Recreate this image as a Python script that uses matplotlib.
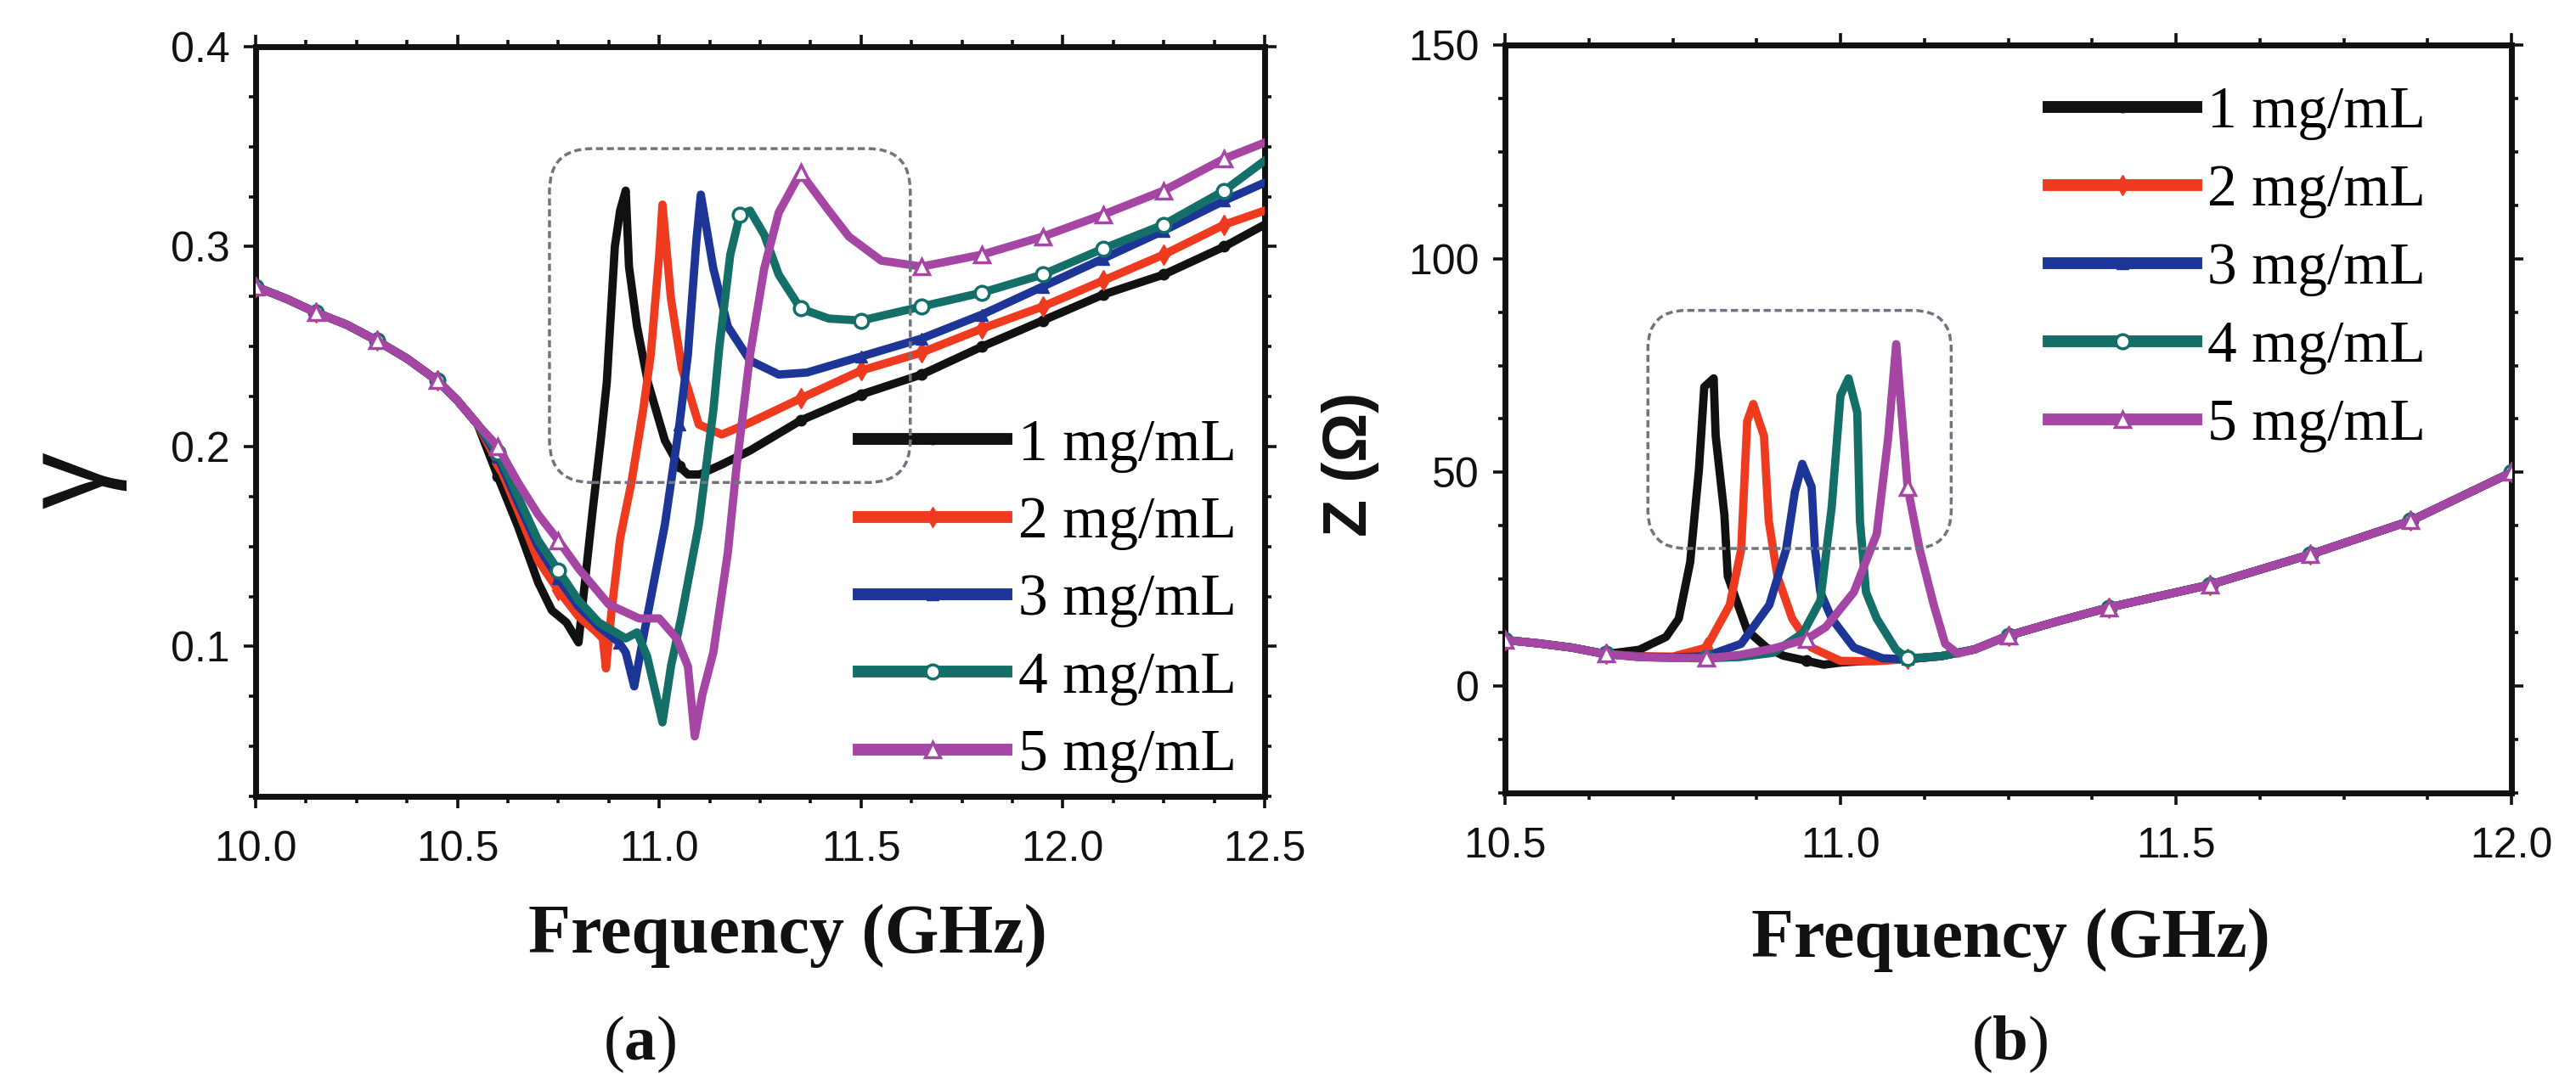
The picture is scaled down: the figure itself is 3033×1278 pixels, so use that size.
import numpy as np
import matplotlib
matplotlib.use("Agg")
import matplotlib.pyplot as plt
from matplotlib.ticker import AutoMinorLocator, FixedLocator, FormatStrFormatter
from matplotlib.patches import FancyBboxPatch
from matplotlib.transforms import IdentityTransform

plt.rcParams['mathtext.fontset'] = 'custom'
plt.rcParams['mathtext.rm'] = 'Liberation Serif'
plt.rcParams['mathtext.bf'] = 'Liberation Serif:bold'

# ---------------- data: panel (a) gamma vs frequency ----------------
labels = ["1 mg/mL", "2 mg/mL", "3 mg/mL", "4 mg/mL", "5 mg/mL"]

common_f_a = [10.00, 10.075, 10.15, 10.225, 10.30, 10.375, 10.45, 10.50, 10.55]
common_g_a = [0.280, 0.274, 0.267, 0.261, 0.253, 0.244, 0.233, 0.223, 0.211]

f_a1 = [10.60, 10.65, 10.70, 10.734, 10.77, 10.80, 10.82, 10.835, 10.855, 10.87, 10.89, 10.903,
        10.917, 10.925, 10.945, 10.972, 11.014, 11.05, 11.071, 11.10, 11.155, 11.225, 11.35,
        11.50, 11.65, 11.80, 11.95, 12.10, 12.25, 12.40, 12.50]
g_a1 = [0.185, 0.160, 0.132, 0.118, 0.112, 0.102, 0.140, 0.168, 0.203, 0.232, 0.300, 0.318,
        0.328, 0.290, 0.260, 0.232, 0.203, 0.190, 0.186, 0.186, 0.191, 0.198, 0.213,
        0.226, 0.236, 0.250, 0.263, 0.276, 0.286, 0.300, 0.311]

f_a2 = [10.60, 10.65, 10.70, 10.75, 10.80, 10.84, 10.86, 10.868, 10.882, 10.903, 10.931, 10.96,
        10.979, 11.00, 11.008, 11.029, 11.056, 11.098, 11.155, 11.225, 11.35, 11.50, 11.65,
        11.80, 11.95, 12.10, 12.25, 12.40, 12.50]
g_a2 = [0.192, 0.168, 0.143, 0.128, 0.115, 0.108, 0.104, 0.089, 0.118, 0.154, 0.182, 0.218,
        0.246, 0.296, 0.321, 0.274, 0.239, 0.211, 0.206, 0.212, 0.224, 0.238, 0.247,
        0.259, 0.270, 0.283, 0.296, 0.311, 0.318]

f_a3 = [10.60, 10.65, 10.70, 10.75, 10.80, 10.85, 10.90, 10.917, 10.938, 10.96, 10.98, 11.014,
        11.05, 11.071, 11.092, 11.103, 11.134, 11.17, 11.225, 11.296, 11.366, 11.50, 11.65,
        11.80, 11.95, 12.10, 12.25, 12.40, 12.50]
g_a3 = [0.195, 0.172, 0.150, 0.134, 0.120, 0.110, 0.102, 0.097, 0.080, 0.104, 0.125, 0.161,
        0.211, 0.246, 0.303, 0.326, 0.289, 0.260, 0.243, 0.236, 0.237, 0.245, 0.254,
        0.266, 0.280, 0.294, 0.308, 0.323, 0.332]

f_a4 = [10.60, 10.65, 10.70, 10.75, 10.80, 10.85, 10.917, 10.945, 10.97, 11.008, 11.029, 11.056,
        11.098, 11.134, 11.149, 11.176, 11.20, 11.225, 11.26, 11.296, 11.35, 11.42, 11.50,
        11.65, 11.80, 11.95, 12.10, 12.25, 12.40, 12.50]
g_a4 = [0.197, 0.175, 0.153, 0.138, 0.123, 0.112, 0.104, 0.107, 0.095, 0.062, 0.090, 0.116,
        0.161, 0.218, 0.250, 0.296, 0.316, 0.318, 0.306, 0.286, 0.269, 0.264, 0.263,
        0.270, 0.277, 0.286, 0.299, 0.311, 0.328, 0.343]

f_a5 = [10.60, 10.65, 10.70, 10.75, 10.80, 10.875, 10.95, 11.00, 11.043, 11.071, 11.088, 11.107,
        11.134, 11.17, 11.191, 11.225, 11.26, 11.296, 11.35, 11.42, 11.47, 11.55, 11.65,
        11.80, 11.95, 12.10, 12.25, 12.40, 12.50]
g_a5 = [0.200, 0.182, 0.166, 0.153, 0.139, 0.121, 0.114, 0.114, 0.104, 0.090, 0.055, 0.076,
        0.097, 0.147, 0.189, 0.246, 0.289, 0.317, 0.337, 0.318, 0.305, 0.293, 0.290,
        0.296, 0.305, 0.316, 0.328, 0.344, 0.352]

marker_f_a = [10.00, 10.15, 10.30, 10.45, 10.60, 10.75, 10.90, 11.05, 11.20, 11.35,
              11.50, 11.65, 11.80, 11.95, 12.10, 12.25, 12.40]

# ---------------- data: panel (b) Z vs frequency ----------------
common_f_b = [10.50, 10.55, 10.60, 10.65]
common_z_b = [10.8, 10.0, 9.0, 7.5]
tail_f_b = [11.20, 11.25, 11.32, 11.40, 11.55, 11.70, 11.85, 12.00]
tail_z_b = [8.6, 11.8, 15.0, 18.4, 23.7, 30.8, 38.7, 50.0]

f_b1 = [10.70, 10.74, 10.759, 10.776, 10.789, 10.797, 10.811, 10.814, 10.827, 10.832, 10.845,
        10.861, 10.89, 10.915, 10.95, 10.975, 11.00, 11.05, 11.10, 11.15]
z_b1 = [8.5, 11.5, 15.8, 29.0, 50.6, 70.0, 72.0, 58.5, 40.0, 25.7, 20.0,
        13.0, 9.0, 7.1, 5.9, 5.0, 5.5, 6.0, 6.3, 7.0]

f_b2 = [10.70, 10.75, 10.80, 10.835, 10.852, 10.861, 10.87, 10.886, 10.893, 10.906, 10.928,
        10.957, 11.00, 11.05, 11.10, 11.15]
z_b2 = [7.0, 6.9, 9.0, 19.0, 32.0, 62.0, 66.0, 58.5, 38.7, 25.7, 15.8,
        9.0, 5.9, 5.8, 6.3, 7.0]

f_b3 = [10.70, 10.75, 10.80, 10.852, 10.894, 10.919, 10.932, 10.943, 10.957, 10.962, 10.97,
        10.987, 11.02, 11.063, 11.10, 11.15]
z_b3 = [6.9, 6.7, 7.0, 9.9, 19.0, 32.0, 45.4, 52.0, 46.6, 32.0, 22.0,
        15.8, 9.0, 6.5, 6.3, 7.0]

f_b4 = [10.70, 10.75, 10.80, 10.85, 10.90, 10.944, 10.97, 10.987, 11.00, 11.012, 11.025,
        11.029, 11.038, 11.054, 11.083, 11.10, 11.15]
z_b4 = [6.8, 6.6, 6.5, 6.8, 7.8, 12.4, 20.0, 42.0, 68.0, 72.0, 64.0,
        38.7, 22.0, 15.8, 8.5, 6.5, 7.0]

f_b5 = [10.70, 10.75, 10.80, 10.85, 10.90, 10.95, 10.978, 11.02, 11.054, 11.071, 11.083,
        11.10, 11.118, 11.139, 11.156, 11.175]
z_b5 = [6.8, 6.6, 6.5, 7.3, 8.8, 11.0, 13.8, 22.0, 35.6, 58.0, 80.0,
        46.6, 32.0, 19.0, 9.9, 7.6]

marker_f_b = [10.50, 10.65, 10.80, 10.95, 11.10, 11.25, 11.40, 11.55, 11.70, 11.85, 12.00]

xticks_a = [10.0, 10.5, 11.0, 11.5, 12.0, 12.5]
yticks_a = [0.1, 0.2, 0.3, 0.4]
xticks_b = [10.5, 11.0, 11.5, 12.0]
yticks_b = [0, 50, 100, 150]

# ---------------- styles ----------------
colors = ['#111111', '#EE3B1F', '#1C3596', '#136F68', '#A545A4']
mstyles = [dict(marker='o', markersize=9, markerfacecolor='#111111', markeredgecolor='#111111'),
           dict(marker='d', markersize=12, markerfacecolor='#EE3B1F', markeredgecolor='#EE3B1F'),
           dict(marker='^', markersize=10, markerfacecolor='#1C3596', markeredgecolor='#1C3596'),
           dict(marker='o', markersize=12, markerfacecolor='white', markeredgecolor='#136F68',
                markeredgewidth=2.5),
           dict(marker='^', markersize=13, markerfacecolor='white', markeredgecolor='#A545A4',
                markeredgewidth=2.5)]

W, H = 3033, 1278
fig = plt.figure(figsize=(W / 100, H / 100), dpi=100)
fig.patch.set_facecolor('white')

ax_a = fig.add_axes([301 / W, 1 - 938 / H, 1188 / W, 883 / H])
ax_b = fig.add_axes([1772 / W, 1 - 934 / H, 1185 / W, 881 / H])


def mark_idx(f, grid):
    return [i for i, v in enumerate(f) if any(abs(v - g) < 1e-6 for g in grid)]


series_a = [(f_a1, g_a1), (f_a2, g_a2), (f_a3, g_a3), (f_a4, g_a4), (f_a5, g_a5)]
series_b = [(f_b1, z_b1), (f_b2, z_b2), (f_b3, z_b3), (f_b4, z_b4), (f_b5, z_b5)]

for k, (fs, gs) in enumerate(series_a):
    f = common_f_a + fs
    g = common_g_a + gs
    ax_a.plot(f, g, color=colors[k], lw=7, solid_joinstyle='round',
              markevery=mark_idx(f, marker_f_a), label=labels[k], zorder=2 + k, **mstyles[k])

for k, (fs, zs) in enumerate(series_b):
    f = common_f_b + fs + tail_f_b
    z = common_z_b + zs + tail_z_b
    ax_b.plot(f, z, color=colors[k], lw=7, solid_joinstyle='round',
              markevery=mark_idx(f, marker_f_b), label=labels[k], zorder=2 + k, **mstyles[k])

ax_a.set_xlim(10.0, 12.5)
ax_a.set_ylim(0.025, 0.4)
ax_b.set_xlim(10.5, 12.0)
ax_b.set_ylim(-25, 150)

for ax, xt, yt, yfmt in [(ax_a, xticks_a, yticks_a, '%.1f'), (ax_b, xticks_b, yticks_b, '%d')]:
    ax.xaxis.set_major_locator(FixedLocator(xt))
    ax.yaxis.set_major_locator(FixedLocator(yt))
    ax.xaxis.set_major_formatter(FormatStrFormatter('%.1f'))
    ax.yaxis.set_major_formatter(FormatStrFormatter(yfmt))
    ax.xaxis.set_minor_locator(AutoMinorLocator(4))
    ax.yaxis.set_minor_locator(AutoMinorLocator(4))
    ax.tick_params(which='both', direction='out', top=True, right=True, width=2.6, color='#111111')
    ax.tick_params(which='major', length=10)
    ax.tick_params(which='minor', length=6)
    ax.tick_params(axis='x', which='major', pad=19, labelsize=36)
    ax.tick_params(axis='y', which='major', pad=12, labelsize=36)
    for lab in ax.get_xticklabels() + ax.get_yticklabels():
        lab.set_fontfamily('Liberation Sans')
        lab.set_color('#111111')
    for sp in ax.spines.values():
        sp.set_linewidth(5)
        sp.set_color('#111111')

# legends
for ax, anchor, lsp in [(ax_a, (0.598, 0.504), 0.40), (ax_b, (0.540, 0.945), 0.41)]:
    leg = ax.legend(loc='upper left', bbox_to_anchor=anchor, frameon=False, borderpad=0,
                    borderaxespad=0, handlelength=2.5, handletextpad=0.2, labelspacing=lsp,
                    numpoints=1, prop={'family': 'Liberation Serif', 'size': 50})
    for ln in leg.get_lines():
        ln.set_linewidth(10)
    leg.set_zorder(20)

# dashed rounded boxes (annotation layout, in data coords)
fig.canvas.draw()
for ax, (x0, y0, x1, y1), rad in [(ax_a, (10.728, 0.182, 11.622, 0.349), 50),
                                  (ax_b, (10.713, 32.2, 11.165, 87.9), 45)]:
    (px0, py0), (px1, py1) = ax.transData.transform([(x0, y0), (x1, y1)])
    box = FancyBboxPatch((px0, py0), px1 - px0, py1 - py0,
                         boxstyle=f"round,pad=0,rounding_size={rad}",
                         transform=IdentityTransform(), fill=False,
                         edgecolor='#6E7480', lw=2.5, linestyle=(0, (2.4, 1.3)), zorder=1)
    fig.add_artist(box)

# axis labels
fig.text(87 / W, 1 - 566 / H, 'γ', rotation=90, ha='center', va='center',
         fontsize=96, fontweight='normal', family='Liberation Sans', color='#111111')
fig.text(1590 / W, 1 - 547 / H, 'Z (Ω)', rotation=90, ha='center', va='center',
         fontsize=52, fontweight='bold', family='Liberation Sans', color='#111111')
fig.text(927 / W, 1 - 1102 / H, 'Frequency (GHz)', ha='center', va='center',
         fontsize=59, fontweight='bold', family='Liberation Serif', color='#111111')
fig.text(2367 / W, 1 - 1107 / H, 'Frequency (GHz)', ha='center', va='center',
         fontsize=59, fontweight='bold', family='Liberation Serif', color='#111111')
fig.text(753 / W, 1 - 1230 / H, r'($\mathbf{a}$)', ha='center', va='center',
         fontsize=54, family='Liberation Serif', color='#111111')
fig.text(2366 / W, 1 - 1230 / H, r'($\mathbf{b}$)', ha='center', va='center',
         fontsize=54, family='Liberation Serif', color='#111111')

fig.savefig('out.png', dpi=100, facecolor='white')
